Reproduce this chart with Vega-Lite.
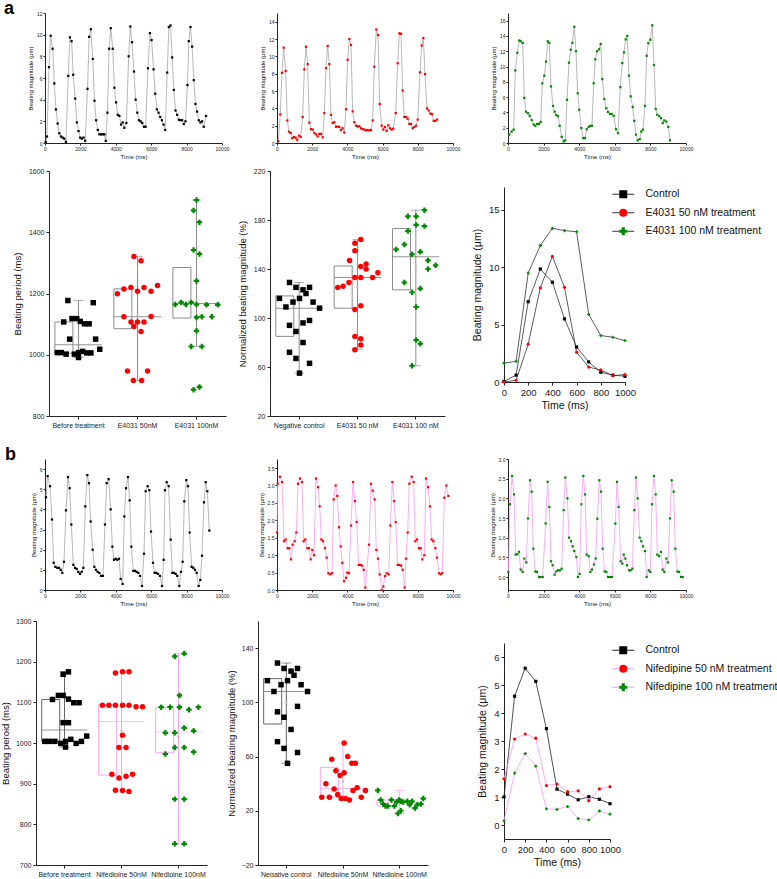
{
"$schema": "https://vega.github.io/schema/vega-lite/v6.json",
"padding": 0,
"background": "white",
"config": {
  "font": "Liberation Sans",
  "view": {"stroke": null},
  "axis": {"grid": false, "domainColor": "#222", "tickColor": "#222", "labelColor": "#222", "titleColor": "#111", "titleFontWeight": "normal", "labelFlush": false, "labelOverlap": false}
},
"datasets": {
  "tsa1": [{"t":38,"v":0.1},{"t":113,"v":0.6},{"t":225,"v":7.0},{"t":319,"v":9.9},{"t":432,"v":8.7},{"t":525,"v":5.5},{"t":619,"v":3.1},{"t":713,"v":1.8},{"t":807,"v":0.9},{"t":900,"v":0.6},{"t":994,"v":0.5},{"t":1088,"v":0.4},{"t":1182,"v":0.1},{"t":1313,"v":6.2},{"t":1407,"v":9.75},{"t":1501,"v":9.4},{"t":1595,"v":6.3},{"t":1707,"v":4.1},{"t":1801,"v":1.9},{"t":1895,"v":1.1},{"t":1989,"v":0.5},{"t":2082,"v":0.4},{"t":2176,"v":0.5},{"t":2270,"v":0.2},{"t":2401,"v":5.0},{"t":2495,"v":9.8},{"t":2589,"v":10.5},{"t":2701,"v":7.75},{"t":2795,"v":3.9},{"t":2889,"v":2.1},{"t":2983,"v":1.2},{"t":3077,"v":0.8},{"t":3170,"v":0.8},{"t":3264,"v":0.8},{"t":3358,"v":0.8},{"t":3433,"v":0.2},{"t":3527,"v":2.8},{"t":3621,"v":8.7},{"t":3714,"v":10.6},{"t":3827,"v":8.7},{"t":3921,"v":5.1},{"t":4015,"v":3.75},{"t":4108,"v":2.6},{"t":4202,"v":2.5},{"t":4296,"v":1.7},{"t":4390,"v":1.9},{"t":4484,"v":1.4},{"t":4596,"v":1.85},{"t":4728,"v":8.0},{"t":4821,"v":10.75},{"t":4915,"v":9.3},{"t":5028,"v":6.6},{"t":5121,"v":4.0},{"t":5215,"v":2.8},{"t":5309,"v":2.1},{"t":5403,"v":2.0},{"t":5497,"v":1.85},{"t":5590,"v":1.5},{"t":5684,"v":1.5},{"t":5816,"v":6.9},{"t":5928,"v":10.15},{"t":6022,"v":9.5},{"t":6135,"v":6.8},{"t":6228,"v":4.55},{"t":6322,"v":3.1},{"t":6416,"v":2.8},{"t":6510,"v":2.4},{"t":6604,"v":2.1},{"t":6697,"v":1.7},{"t":6791,"v":1.2},{"t":6904,"v":6.5},{"t":6997,"v":10.7},{"t":7091,"v":10.85},{"t":7185,"v":7.9},{"t":7279,"v":4.9},{"t":7373,"v":3.0},{"t":7466,"v":2.6},{"t":7560,"v":2.15},{"t":7654,"v":2.1},{"t":7748,"v":2.1},{"t":7842,"v":1.75},{"t":7936,"v":2.0},{"t":8048,"v":5.35},{"t":8123,"v":9.4},{"t":8217,"v":10.7},{"t":8311,"v":8.9},{"t":8405,"v":5.8},{"t":8499,"v":3.6},{"t":8592,"v":2.9},{"t":8686,"v":2.1},{"t":8780,"v":1.9},{"t":8874,"v":2.0},{"t":8968,"v":1.5},{"t":9099,"v":2.5}],
  "tsa2": [{"t":76,"v":0.2},{"t":189,"v":3.3},{"t":284,"v":8.1},{"t":379,"v":11.0},{"t":492,"v":8.3},{"t":587,"v":2.6},{"t":682,"v":1.3},{"t":777,"v":1.15},{"t":871,"v":0.55},{"t":966,"v":0.7},{"t":1061,"v":0.6},{"t":1155,"v":0.35},{"t":1250,"v":0.85},{"t":1345,"v":0.7},{"t":1458,"v":3.0},{"t":1553,"v":8.5},{"t":1648,"v":11.1},{"t":1742,"v":9.1},{"t":1837,"v":2.35},{"t":1932,"v":1.6},{"t":2027,"v":1.55},{"t":2121,"v":1.15},{"t":2216,"v":1.0},{"t":2311,"v":0.75},{"t":2405,"v":1.05},{"t":2500,"v":1.05},{"t":2595,"v":0.65},{"t":2689,"v":3.45},{"t":2784,"v":8.65},{"t":2879,"v":11.2},{"t":2973,"v":9.1},{"t":3068,"v":3.25},{"t":3163,"v":2.3},{"t":3258,"v":2.4},{"t":3352,"v":1.85},{"t":3447,"v":1.9},{"t":3542,"v":1.85},{"t":3636,"v":1.5},{"t":3731,"v":1.7},{"t":3826,"v":1.2},{"t":3920,"v":3.9},{"t":4015,"v":9.6},{"t":4110,"v":12.0},{"t":4205,"v":11.3},{"t":4299,"v":3.65},{"t":4394,"v":2.4},{"t":4489,"v":2.0},{"t":4583,"v":1.9},{"t":4678,"v":1.95},{"t":4773,"v":1.7},{"t":4867,"v":1.6},{"t":4962,"v":1.55},{"t":5057,"v":1.45},{"t":5151,"v":1.5},{"t":5246,"v":1.45},{"t":5341,"v":1.5},{"t":5436,"v":2.6},{"t":5530,"v":8.8},{"t":5644,"v":13.1},{"t":5739,"v":12.45},{"t":5834,"v":4.5},{"t":5947,"v":2.0},{"t":6042,"v":1.55},{"t":6137,"v":1.85},{"t":6231,"v":1.4},{"t":6326,"v":2.05},{"t":6421,"v":1.7},{"t":6515,"v":1.55},{"t":6610,"v":1.65},{"t":6743,"v":3.45},{"t":6856,"v":9.2},{"t":6951,"v":12.65},{"t":7046,"v":12.6},{"t":7140,"v":6.05},{"t":7235,"v":3.0},{"t":7330,"v":3.0},{"t":7424,"v":2.8},{"t":7519,"v":2.2},{"t":7614,"v":2.2},{"t":7709,"v":1.7},{"t":7803,"v":1.85},{"t":7898,"v":2.0},{"t":7993,"v":2.7},{"t":8125,"v":8.15},{"t":8220,"v":11.25},{"t":8315,"v":12.1},{"t":8409,"v":7.95},{"t":8523,"v":4.0},{"t":8618,"v":3.75},{"t":8712,"v":3.4},{"t":8807,"v":3.35},{"t":8902,"v":2.55},{"t":8997,"v":2.55},{"t":9091,"v":2.7}],
  "tsa3": [{"t":73,"v":1.1},{"t":208,"v":1.5},{"t":320,"v":1.75},{"t":410,"v":9.5},{"t":522,"v":11.8},{"t":635,"v":13.4},{"t":713,"v":13.3},{"t":826,"v":13.1},{"t":916,"v":5.9},{"t":1011,"v":4.1},{"t":1124,"v":3.9},{"t":1219,"v":3.55},{"t":1330,"v":3.0},{"t":1443,"v":2.4},{"t":1536,"v":2.25},{"t":1629,"v":2.5},{"t":1742,"v":2.5},{"t":1837,"v":2.75},{"t":1927,"v":7.8},{"t":2040,"v":8.8},{"t":2135,"v":10.65},{"t":2230,"v":13.3},{"t":2320,"v":13.1},{"t":2416,"v":7.4},{"t":2528,"v":4.85},{"t":2624,"v":4.1},{"t":2714,"v":3.65},{"t":2809,"v":3.5},{"t":2904,"v":2.25},{"t":3017,"v":0.8},{"t":3129,"v":0.2},{"t":3219,"v":0.35},{"t":3315,"v":5.65},{"t":3427,"v":10.5},{"t":3523,"v":12.2},{"t":3613,"v":13.1},{"t":3725,"v":15.2},{"t":3820,"v":12.0},{"t":3916,"v":6.5},{"t":4006,"v":4.35},{"t":4118,"v":1.95},{"t":4231,"v":0.65},{"t":4326,"v":0.65},{"t":4421,"v":1.8},{"t":4533,"v":2.1},{"t":4624,"v":2.25},{"t":4719,"v":2.25},{"t":4814,"v":7.8},{"t":4905,"v":10.95},{"t":5000,"v":12.0},{"t":5112,"v":12.25},{"t":5208,"v":12.95},{"t":5298,"v":8.35},{"t":5410,"v":5.75},{"t":5523,"v":4.55},{"t":5618,"v":4.05},{"t":5730,"v":3.8},{"t":5826,"v":3.8},{"t":5938,"v":3.55},{"t":6067,"v":1.8},{"t":6180,"v":1.3},{"t":6309,"v":7.3},{"t":6421,"v":10.45},{"t":6517,"v":11.85},{"t":6612,"v":13.55},{"t":6702,"v":14.0},{"t":6798,"v":8.8},{"t":6893,"v":6.1},{"t":7006,"v":4.7},{"t":7096,"v":2.9},{"t":7191,"v":1.1},{"t":7287,"v":0.35},{"t":7399,"v":0.5},{"t":7489,"v":1.5},{"t":7584,"v":1.75},{"t":7697,"v":4.85},{"t":7792,"v":11.4},{"t":7882,"v":13.05},{"t":7995,"v":13.5},{"t":8107,"v":15.4},{"t":8202,"v":10.2},{"t":8298,"v":4.45},{"t":8387,"v":3.7},{"t":8500,"v":3.5},{"t":8596,"v":3.25},{"t":8691,"v":2.6},{"t":8781,"v":2.95},{"t":8894,"v":2.8},{"t":9006,"v":2.1},{"t":9101,"v":0.35}],
  "tsb1": [{"t":56,"v":4.6},{"t":151,"v":5.65},{"t":282,"v":5.15},{"t":395,"v":3.5},{"t":490,"v":1.35},{"t":584,"v":1.15},{"t":697,"v":1.1},{"t":791,"v":1.1},{"t":885,"v":1.0},{"t":979,"v":0.85},{"t":1073,"v":1.4},{"t":1186,"v":3.95},{"t":1299,"v":5.6},{"t":1393,"v":5.05},{"t":1488,"v":3.25},{"t":1601,"v":1.25},{"t":1695,"v":1.1},{"t":1789,"v":1.05},{"t":1883,"v":0.9},{"t":1977,"v":0.8},{"t":2071,"v":0.9},{"t":2165,"v":1.1},{"t":2278,"v":4.15},{"t":2391,"v":5.7},{"t":2486,"v":5.3},{"t":2580,"v":3.4},{"t":2693,"v":2.0},{"t":2787,"v":1.15},{"t":2881,"v":1.0},{"t":2975,"v":0.9},{"t":3069,"v":0.85},{"t":3163,"v":0.7},{"t":3276,"v":0.7},{"t":3389,"v":3.25},{"t":3484,"v":5.3},{"t":3597,"v":5.5},{"t":3710,"v":4.0},{"t":3804,"v":2.15},{"t":3898,"v":1.5},{"t":3992,"v":1.55},{"t":4086,"v":1.5},{"t":4180,"v":1.55},{"t":4274,"v":0.55},{"t":4387,"v":0.3},{"t":4482,"v":3.65},{"t":4576,"v":5.05},{"t":4689,"v":5.6},{"t":4783,"v":4.45},{"t":4877,"v":2.15},{"t":4990,"v":0.95},{"t":5084,"v":0.95},{"t":5178,"v":0.9},{"t":5272,"v":0.85},{"t":5367,"v":0.7},{"t":5480,"v":0.2},{"t":5593,"v":1.8},{"t":5687,"v":4.9},{"t":5800,"v":5.15},{"t":5894,"v":4.95},{"t":5988,"v":2.9},{"t":6101,"v":1.35},{"t":6195,"v":0.85},{"t":6289,"v":0.85},{"t":6383,"v":0.8},{"t":6496,"v":0.7},{"t":6609,"v":0.2},{"t":6703,"v":1.5},{"t":6779,"v":4.95},{"t":6873,"v":5.35},{"t":6986,"v":5.15},{"t":7099,"v":2.5},{"t":7193,"v":0.85},{"t":7287,"v":0.85},{"t":7381,"v":0.8},{"t":7476,"v":0.7},{"t":7589,"v":0.2},{"t":7683,"v":0.9},{"t":7777,"v":1.4},{"t":7871,"v":4.4},{"t":7984,"v":5.45},{"t":8078,"v":5.15},{"t":8172,"v":2.85},{"t":8285,"v":1.15},{"t":8379,"v":1.1},{"t":8474,"v":1.0},{"t":8568,"v":0.85},{"t":8681,"v":0.2},{"t":8775,"v":0.5},{"t":8869,"v":1.7},{"t":8982,"v":4.35},{"t":9076,"v":5.35},{"t":9170,"v":4.9},{"t":9283,"v":2.95}],
  "tsb2": [{"t":0,"v":1.65},{"t":38,"v":3.05},{"t":170,"v":3.25},{"t":284,"v":3.1},{"t":398,"v":1.4},{"t":492,"v":1.45},{"t":606,"v":1.2},{"t":701,"v":1.2},{"t":795,"v":0.88},{"t":890,"v":1.3},{"t":1004,"v":1.4},{"t":1099,"v":1.65},{"t":1193,"v":3.05},{"t":1307,"v":3.2},{"t":1421,"v":3.1},{"t":1515,"v":1.4},{"t":1610,"v":1.45},{"t":1724,"v":1.2},{"t":1818,"v":1.2},{"t":1913,"v":0.88},{"t":2008,"v":1.15},{"t":2102,"v":1.0},{"t":2216,"v":3.2},{"t":2330,"v":2.95},{"t":2424,"v":2.4},{"t":2519,"v":1.45},{"t":2614,"v":1.4},{"t":2727,"v":1.2},{"t":2822,"v":0.93},{"t":2917,"v":0.48},{"t":3011,"v":0.45},{"t":3125,"v":0.48},{"t":3220,"v":2.6},{"t":3333,"v":3.0},{"t":3428,"v":2.7},{"t":3523,"v":1.8},{"t":3618,"v":1.25},{"t":3712,"v":0.78},{"t":3807,"v":0.25},{"t":3921,"v":0.35},{"t":3996,"v":0.5},{"t":4091,"v":0.48},{"t":4205,"v":1.85},{"t":4318,"v":3.1},{"t":4432,"v":2.55},{"t":4527,"v":1.95},{"t":4640,"v":0.72},{"t":4735,"v":0.72},{"t":4830,"v":0.7},{"t":4924,"v":0.58},{"t":5019,"v":0.07},{"t":5227,"v":1.3},{"t":5341,"v":3.05},{"t":5436,"v":2.85},{"t":5549,"v":2.6},{"t":5644,"v":1.15},{"t":5739,"v":0.9},{"t":5834,"v":0.45},{"t":5947,"v":0.0},{"t":6042,"v":0.1},{"t":6137,"v":0.4},{"t":6231,"v":0.48},{"t":6345,"v":0.45},{"t":6440,"v":1.85},{"t":6553,"v":3.1},{"t":6648,"v":2.55},{"t":6743,"v":1.95},{"t":6856,"v":0.72},{"t":6951,"v":0.72},{"t":7046,"v":0.7},{"t":7140,"v":0.58},{"t":7254,"v":0.07},{"t":7330,"v":0.9},{"t":7424,"v":1.65},{"t":7519,"v":3.05},{"t":7652,"v":3.25},{"t":7765,"v":3.1},{"t":7860,"v":1.4},{"t":7955,"v":1.45},{"t":8068,"v":1.2},{"t":8163,"v":1.2},{"t":8258,"v":0.88},{"t":8371,"v":1.0},{"t":8466,"v":3.2},{"t":8580,"v":2.95},{"t":8693,"v":2.4},{"t":8788,"v":1.45},{"t":8883,"v":1.4},{"t":8997,"v":1.2},{"t":9091,"v":0.93},{"t":9205,"v":0.48},{"t":9300,"v":0.45},{"t":9394,"v":0.48},{"t":9508,"v":2.65},{"t":9622,"v":3.0},{"t":9735,"v":2.7}],
  "tsb3": [{"t":19,"v":0.13},{"t":112,"v":1.85},{"t":225,"v":2.57},{"t":337,"v":2.1},{"t":431,"v":0.57},{"t":524,"v":0.58},{"t":618,"v":0.64},{"t":712,"v":0.19},{"t":824,"v":0.13},{"t":918,"v":0.47},{"t":1030,"v":0.37},{"t":1124,"v":1.49},{"t":1236,"v":2.46},{"t":1330,"v":2.17},{"t":1423,"v":0.72},{"t":1536,"v":0.14},{"t":1629,"v":0.13},{"t":1742,"v":0.0},{"t":1835,"v":0.0},{"t":1948,"v":0.0},{"t":2116,"v":1.36},{"t":2228,"v":2.42},{"t":2322,"v":1.78},{"t":2416,"v":0.4},{"t":2509,"v":0.3},{"t":2621,"v":0.06},{"t":2715,"v":0.14},{"t":2809,"v":0.17},{"t":2921,"v":0.17},{"t":3015,"v":0.21},{"t":3127,"v":1.7},{"t":3221,"v":2.53},{"t":3334,"v":2.0},{"t":3427,"v":1.0},{"t":3539,"v":0.91},{"t":3633,"v":0.78},{"t":3727,"v":0.66},{"t":3839,"v":0.51},{"t":3933,"v":0.0},{"t":4026,"v":0.08},{"t":4120,"v":1.85},{"t":4232,"v":2.57},{"t":4326,"v":2.1},{"t":4420,"v":0.57},{"t":4532,"v":0.53},{"t":4626,"v":0.13},{"t":4719,"v":0.19},{"t":4831,"v":0.32},{"t":4925,"v":0.47},{"t":5019,"v":1.48},{"t":5131,"v":2.46},{"t":5225,"v":2.17},{"t":5318,"v":0.72},{"t":5431,"v":0.14},{"t":5524,"v":0.13},{"t":5618,"v":0.0},{"t":5730,"v":0.0},{"t":5843,"v":0.0},{"t":6030,"v":1.36},{"t":6124,"v":2.42},{"t":6217,"v":1.78},{"t":6329,"v":0.4},{"t":6423,"v":0.34},{"t":6498,"v":0.57},{"t":6592,"v":0.47},{"t":6686,"v":0.3},{"t":6798,"v":0.17},{"t":6892,"v":0.17},{"t":6986,"v":0.21},{"t":7098,"v":1.7},{"t":7191,"v":2.53},{"t":7285,"v":2.0},{"t":7398,"v":1.0},{"t":7491,"v":0.91},{"t":7585,"v":0.78},{"t":7697,"v":0.66},{"t":7791,"v":0.0},{"t":7903,"v":0.17},{"t":7997,"v":0.13},{"t":8090,"v":1.85},{"t":8203,"v":2.57},{"t":8296,"v":2.1},{"t":8390,"v":0.57},{"t":8484,"v":0.53},{"t":8596,"v":0.64},{"t":8690,"v":0.19},{"t":8783,"v":0.13},{"t":8896,"v":0.47},{"t":8989,"v":0.37},{"t":9101,"v":1.49},{"t":9195,"v":2.46},{"t":9307,"v":2.17},{"t":9401,"v":0.72},{"t":9514,"v":0.14},{"t":9607,"v":0.13},{"t":9719,"v":0.0},{"t":9813,"v":0.0}],
  "boxa1": [{"g":"Before treatment","lo":991,"q1":1005,"md":1033,"q3":1107,"hi":1177,"mn":1059},{"g":"E4031 50nM","lo":916,"q1":1085,"md":1124,"q3":1215,"hi":1321,"mn":1128},{"g":"E4031 100nM","lo":1027,"q1":1120,"md":1167,"q3":1285,"hi":1505,"mn":1180}],
  "ptsa1": [{"g":"Before treatment","v":1177,"j":-0.18},{"g":"Before treatment","v":1107,"j":-0.25},{"g":"Before treatment","v":1118,"j":-0.11},{"g":"Before treatment","v":1118,"j":-0.03},{"g":"Before treatment","v":1109,"j":0.03},{"g":"Before treatment","v":1101,"j":0.1},{"g":"Before treatment","v":1101,"j":0.18},{"g":"Before treatment","v":1170,"j":0.25},{"g":"Before treatment","v":1051,"j":-0.15},{"g":"Before treatment","v":1051,"j":0.29},{"g":"Before treatment","v":1007,"j":-0.36},{"g":"Before treatment","v":1007,"j":-0.29},{"g":"Before treatment","v":1002,"j":-0.21},{"g":"Before treatment","v":1002,"j":-0.07},{"g":"Before treatment","v":1007,"j":0},{"g":"Before treatment","v":1011,"j":0.07},{"g":"Before treatment","v":1006,"j":0.14},{"g":"Before treatment","v":1006,"j":0.21},{"g":"Before treatment","v":1018,"j":0.36},{"g":"Before treatment","v":991,"j":0},
    {"g":"E4031 50nM","v":1321,"j":-0.06},{"g":"E4031 50nM","v":1307,"j":0.06},{"g":"E4031 50nM","v":1199,"j":-0.34},{"g":"E4031 50nM","v":1215,"j":-0.23},{"g":"E4031 50nM","v":1220,"j":-0.11},{"g":"E4031 50nM","v":1207,"j":0},{"g":"E4031 50nM","v":1220,"j":0.11},{"g":"E4031 50nM","v":1207,"j":0.23},{"g":"E4031 50nM","v":1226,"j":0.34},{"g":"E4031 50nM","v":1124,"j":-0.23},{"g":"E4031 50nM","v":1125,"j":0.23},{"g":"E4031 50nM","v":1107,"j":-0.11},{"g":"E4031 50nM","v":1107,"j":0},{"g":"E4031 50nM","v":1107,"j":0.11},{"g":"E4031 50nM","v":1092,"j":-0.06},{"g":"E4031 50nM","v":1076,"j":0.06},{"g":"E4031 50nM","v":947,"j":-0.17},{"g":"E4031 50nM","v":947,"j":0.17},{"g":"E4031 50nM","v":916,"j":-0.07},{"g":"E4031 50nM","v":916,"j":0.07},
    {"g":"E4031 100nM","v":1505,"j":0},{"g":"E4031 100nM","v":1471,"j":-0.05},{"g":"E4031 100nM","v":1433,"j":0.05},{"g":"E4031 100nM","v":1342,"j":-0.05},{"g":"E4031 100nM","v":1329,"j":0.05},{"g":"E4031 100nM","v":1241,"j":0},{"g":"E4031 100nM","v":1164,"j":-0.36},{"g":"E4031 100nM","v":1171,"j":-0.26},{"g":"E4031 100nM","v":1164,"j":-0.18},{"g":"E4031 100nM","v":1171,"j":-0.09},{"g":"E4031 100nM","v":1164,"j":0},{"g":"E4031 100nM","v":1163,"j":0.17},{"g":"E4031 100nM","v":1163,"j":0.36},{"g":"E4031 100nM","v":1122,"j":0},{"g":"E4031 100nM","v":1124,"j":0.09},{"g":"E4031 100nM","v":1124,"j":0.26},{"g":"E4031 100nM","v":1078,"j":0},{"g":"E4031 100nM","v":1027,"j":-0.09},{"g":"E4031 100nM","v":1027,"j":0.09},{"g":"E4031 100nM","v":886,"j":-0.05},{"g":"E4031 100nM","v":895,"j":0.05}],
  "boxa2": [{"g":"Negative control","lo":55,"q1":85,"md":108,"q3":118,"hi":129,"mn":101},{"g":"E4031 50 nM","lo":74.5,"q1":108,"md":133,"q3":142.5,"hi":164,"mn":125},{"g":"E4031 100 nM","lo":61,"q1":123,"md":150,"q3":173,"hi":188,"mn":142}],
  "ptsa2": [{"g":"Negative control","v":129,"j":-0.17},{"g":"Negative control","v":125,"j":-0.06},{"g":"Negative control","v":123,"j":0.06},{"g":"Negative control","v":120,"j":0.11},{"g":"Negative control","v":125,"j":0.17},{"g":"Negative control","v":116,"j":-0.34},{"g":"Negative control","v":116,"j":0},{"g":"Negative control","v":113,"j":-0.11},{"g":"Negative control","v":113,"j":0.23},{"g":"Negative control","v":109,"j":-0.23},{"g":"Negative control","v":108,"j":0.34},{"g":"Negative control","v":94,"j":-0.17},{"g":"Negative control","v":96,"j":0.06},{"g":"Negative control","v":98,"j":0.17},{"g":"Negative control","v":89,"j":-0.06},{"g":"Negative control","v":80,"j":0.06},{"g":"Negative control","v":72,"j":-0.17},{"g":"Negative control","v":63,"j":0.17},{"g":"Negative control","v":67,"j":-0.06},{"g":"Negative control","v":55,"j":0},
    {"g":"E4031 50 nM","v":164,"j":0.05},{"g":"E4031 50 nM","v":161,"j":-0.05},{"g":"E4031 50 nM","v":155,"j":-0.05},{"g":"E4031 50 nM","v":147,"j":-0.14},{"g":"E4031 50 nM","v":144,"j":0.14},{"g":"E4031 50 nM","v":142,"j":0.05},{"g":"E4031 50 nM","v":140,"j":0.14},{"g":"E4031 50 nM","v":137,"j":0.34},{"g":"E4031 50 nM","v":133,"j":0.25},{"g":"E4031 50 nM","v":133,"j":-0.05},{"g":"E4031 50 nM","v":133,"j":0.05},{"g":"E4031 50 nM","v":125,"j":-0.34},{"g":"E4031 50 nM","v":126,"j":-0.25},{"g":"E4031 50 nM","v":129,"j":-0.15},{"g":"E4031 50 nM","v":110,"j":0.05},{"g":"E4031 50 nM","v":107,"j":-0.05},{"g":"E4031 50 nM","v":85,"j":-0.05},{"g":"E4031 50 nM","v":83,"j":0.05},{"g":"E4031 50 nM","v":78,"j":0.05},{"g":"E4031 50 nM","v":74,"j":-0.05},
    {"g":"E4031 100 nM","v":183,"j":-0.14},{"g":"E4031 100 nM","v":183,"j":0},{"g":"E4031 100 nM","v":188,"j":0.14},{"g":"E4031 100 nM","v":176,"j":0},{"g":"E4031 100 nM","v":175,"j":0.14},{"g":"E4031 100 nM","v":171,"j":-0.14},{"g":"E4031 100 nM","v":156,"j":-0.34},{"g":"E4031 100 nM","v":160,"j":-0.2},{"g":"E4031 100 nM","v":152,"j":-0.07},{"g":"E4031 100 nM","v":154,"j":0.07},{"g":"E4031 100 nM","v":147,"j":0.2},{"g":"E4031 100 nM","v":143,"j":0.33},{"g":"E4031 100 nM","v":140,"j":0.2},{"g":"E4031 100 nM","v":129,"j":-0.2},{"g":"E4031 100 nM","v":124,"j":0.07},{"g":"E4031 100 nM","v":121,"j":-0.07},{"g":"E4031 100 nM","v":109,"j":0},{"g":"E4031 100 nM","v":82,"j":0},{"g":"E4031 100 nM","v":79,"j":0.07},{"g":"E4031 100 nM","v":61,"j":-0.07}],
  "boxb1": [{"g":"Before treatment","lo":990,"q1":1004,"md":1032,"q3":1107,"hi":1175,"mn":1056},{"g":"Nifedipine 50nM","lo":881,"q1":921,"md":1053,"q3":1094,"hi":1175,"mn":1030},{"g":"Nifedipine 100nM","lo":752,"q1":976,"md":1027,"q3":1087,"hi":1220,"mn":1015}],
  "ptsb1": [{"g":"Before treatment","v":1175,"j":0.05},{"g":"Before treatment","v":1169,"j":-0.04},{"g":"Before treatment","v":1107,"j":-0.22},{"g":"Before treatment","v":1117,"j":-0.12},{"g":"Before treatment","v":1117,"j":-0.04},{"g":"Before treatment","v":1108,"j":0.05},{"g":"Before treatment","v":1099,"j":0.14},{"g":"Before treatment","v":1099,"j":0.23},{"g":"Before treatment","v":1050,"j":-0.04},{"g":"Before treatment","v":1050,"j":0.05},{"g":"Before treatment","v":1004,"j":-0.35},{"g":"Before treatment","v":1004,"j":-0.27},{"g":"Before treatment","v":1004,"j":-0.18},{"g":"Before treatment","v":999,"j":-0.08},{"g":"Before treatment","v":1004,"j":0},{"g":"Before treatment","v":1009,"j":0.09},{"g":"Before treatment","v":999,"j":0.18},{"g":"Before treatment","v":1004,"j":0.27},{"g":"Before treatment","v":1017,"j":0.36},{"g":"Before treatment","v":990,"j":0},
    {"g":"Nifedipine 50nM","v":1172,"j":-0.12},{"g":"Nifedipine 50nM","v":1175,"j":0},{"g":"Nifedipine 50nM","v":1175,"j":0.11},{"g":"Nifedipine 50nM","v":1093,"j":-0.34},{"g":"Nifedipine 50nM","v":1093,"j":-0.23},{"g":"Nifedipine 50nM","v":1093,"j":-0.12},{"g":"Nifedipine 50nM","v":1093,"j":0},{"g":"Nifedipine 50nM","v":1093,"j":0.11},{"g":"Nifedipine 50nM","v":1089,"j":0.23},{"g":"Nifedipine 50nM","v":1089,"j":0.34},{"g":"Nifedipine 50nM","v":1019,"j":0},{"g":"Nifedipine 50nM","v":989,"j":-0.06},{"g":"Nifedipine 50nM","v":989,"j":0.06},{"g":"Nifedipine 50nM","v":923,"j":-0.18},{"g":"Nifedipine 50nM","v":923,"j":0.17},{"g":"Nifedipine 50nM","v":918,"j":0.06},{"g":"Nifedipine 50nM","v":914,"j":-0.06},{"g":"Nifedipine 50nM","v":884,"j":-0.12},{"g":"Nifedipine 50nM","v":883,"j":0},{"g":"Nifedipine 50nM","v":881,"j":0.11},
    {"g":"Nifedipine 100nM","v":1213,"j":-0.08},{"g":"Nifedipine 100nM","v":1220,"j":0.08},{"g":"Nifedipine 100nM","v":1117,"j":0},{"g":"Nifedipine 100nM","v":1088,"j":-0.31},{"g":"Nifedipine 100nM","v":1088,"j":-0.16},{"g":"Nifedipine 100nM","v":1088,"j":0},{"g":"Nifedipine 100nM","v":1082,"j":0.16},{"g":"Nifedipine 100nM","v":1088,"j":0.32},{"g":"Nifedipine 100nM","v":1025,"j":-0.24},{"g":"Nifedipine 100nM","v":1025,"j":-0.08},{"g":"Nifedipine 100nM","v":1037,"j":0.08},{"g":"Nifedipine 100nM","v":1030,"j":0.24},{"g":"Nifedipine 100nM","v":989,"j":-0.08},{"g":"Nifedipine 100nM","v":989,"j":0.08},{"g":"Nifedipine 100nM","v":973,"j":-0.24},{"g":"Nifedipine 100nM","v":978,"j":0.24},{"g":"Nifedipine 100nM","v":862,"j":-0.08},{"g":"Nifedipine 100nM","v":862,"j":0.08},{"g":"Nifedipine 100nM","v":752,"j":-0.08},{"g":"Nifedipine 100nM","v":752,"j":0.08}],
  "boxb2": [{"g":"Negative control","lo":55,"q1":84,"md":108,"q3":117.5,"hi":129,"mn":100},{"g":"Nifedipine 50nM","lo":28,"q1":30,"md":36.5,"q3":52,"hi":70,"mn":42},{"g":"Nifedipine 100nM","lo":18,"q1":23.5,"md":26,"q3":28,"hi":35,"mn":26}],
  "ptsb2": [{"g":"Negative control","v":129,"j":-0.17},{"g":"Negative control","v":125,"j":-0.06},{"g":"Negative control","v":125,"j":0.17},{"g":"Negative control","v":123,"j":0.06},{"g":"Negative control","v":120,"j":0.11},{"g":"Negative control","v":116,"j":-0.34},{"g":"Negative control","v":116,"j":0},{"g":"Negative control","v":113,"j":-0.11},{"g":"Negative control","v":113,"j":0.23},{"g":"Negative control","v":108,"j":-0.23},{"g":"Negative control","v":108,"j":0.34},{"g":"Negative control","v":93,"j":-0.17},{"g":"Negative control","v":89,"j":-0.06},{"g":"Negative control","v":97,"j":0.17},{"g":"Negative control","v":80,"j":0.06},{"g":"Negative control","v":71,"j":-0.17},{"g":"Negative control","v":66,"j":-0.06},{"g":"Negative control","v":63,"j":0.17},{"g":"Negative control","v":55,"j":0},
    {"g":"Nifedipine 50nM","v":70,"j":0},{"g":"Nifedipine 50nM","v":60,"j":0.06},{"g":"Nifedipine 50nM","v":58,"j":-0.21},{"g":"Nifedipine 50nM","v":55,"j":0.13},{"g":"Nifedipine 50nM","v":55,"j":0.19},{"g":"Nifedipine 50nM","v":49.5,"j":-0.14},{"g":"Nifedipine 50nM","v":48,"j":0},{"g":"Nifedipine 50nM","v":46,"j":-0.07},{"g":"Nifedipine 50nM","v":40,"j":-0.31},{"g":"Nifedipine 50nM","v":36,"j":-0.17},{"g":"Nifedipine 50nM","v":37,"j":0.22},{"g":"Nifedipine 50nM","v":35,"j":0.15},{"g":"Nifedipine 50nM","v":35,"j":0.36},{"g":"Nifedipine 50nM","v":30,"j":-0.38},{"g":"Nifedipine 50nM","v":30,"j":-0.25},{"g":"Nifedipine 50nM","v":32,"j":-0.11},{"g":"Nifedipine 50nM","v":29,"j":-0.05},{"g":"Nifedipine 50nM","v":29,"j":0.02},{"g":"Nifedipine 50nM","v":28,"j":0.09},{"g":"Nifedipine 50nM","v":30,"j":0.29},
    {"g":"Nifedipine 100nM","v":35,"j":-0.39},{"g":"Nifedipine 100nM","v":28,"j":-0.34},{"g":"Nifedipine 100nM","v":25,"j":-0.3},{"g":"Nifedipine 100nM","v":23.5,"j":-0.26},{"g":"Nifedipine 100nM","v":23.5,"j":-0.22},{"g":"Nifedipine 100nM","v":28,"j":-0.16},{"g":"Nifedipine 100nM","v":23.5,"j":-0.11},{"g":"Nifedipine 100nM","v":26.5,"j":-0.07},{"g":"Nifedipine 100nM","v":28,"j":-0.03},{"g":"Nifedipine 100nM","v":27,"j":0},{"g":"Nifedipine 100nM","v":26.5,"j":0.04},{"g":"Nifedipine 100nM","v":27,"j":0.11},{"g":"Nifedipine 100nM","v":24.5,"j":0.15},{"g":"Nifedipine 100nM","v":27,"j":0.19},{"g":"Nifedipine 100nM","v":22,"j":0.24},{"g":"Nifedipine 100nM","v":24.5,"j":0.28},{"g":"Nifedipine 100nM","v":25,"j":0.34},{"g":"Nifedipine 100nM","v":29,"j":0.38},{"g":"Nifedipine 100nM","v":18,"j":-0.05},{"g":"Nifedipine 100nM","v":20,"j":0}],
  "linea": [{"s":"Control","t":0,"v":0.05},{"s":"Control","t":100,"v":0.6},{"s":"Control","t":200,"v":7.0},{"s":"Control","t":300,"v":9.85},{"s":"Control","t":400,"v":8.7},{"s":"Control","t":500,"v":5.5},{"s":"Control","t":600,"v":3.05},{"s":"Control","t":700,"v":1.75},{"s":"Control","t":800,"v":0.85},{"s":"Control","t":900,"v":0.6},{"s":"Control","t":1000,"v":0.5},
    {"s":"E4031 50 nM treatment","t":0,"v":0},{"s":"E4031 50 nM treatment","t":100,"v":0.15},{"s":"E4031 50 nM treatment","t":200,"v":3.3},{"s":"E4031 50 nM treatment","t":300,"v":8.2},{"s":"E4031 50 nM treatment","t":400,"v":10.95},{"s":"E4031 50 nM treatment","t":500,"v":8.25},{"s":"E4031 50 nM treatment","t":600,"v":2.6},{"s":"E4031 50 nM treatment","t":700,"v":1.3},{"s":"E4031 50 nM treatment","t":800,"v":1.05},{"s":"E4031 50 nM treatment","t":900,"v":0.55},{"s":"E4031 50 nM treatment","t":1000,"v":0.65},
    {"s":"E4031 100 nM treatment","t":0,"v":1.65},{"s":"E4031 100 nM treatment","t":100,"v":1.8},{"s":"E4031 100 nM treatment","t":200,"v":9.5},{"s":"E4031 100 nM treatment","t":300,"v":11.9},{"s":"E4031 100 nM treatment","t":400,"v":13.4},{"s":"E4031 100 nM treatment","t":500,"v":13.2},{"s":"E4031 100 nM treatment","t":600,"v":13.1},{"s":"E4031 100 nM treatment","t":700,"v":5.9},{"s":"E4031 100 nM treatment","t":800,"v":4.05},{"s":"E4031 100 nM treatment","t":900,"v":3.9},{"s":"E4031 100 nM treatment","t":1000,"v":3.6}],
  "lineb": [{"s":"Control","t":0,"v":1.0},{"s":"Control","t":100,"v":4.6},{"s":"Control","t":200,"v":5.6},{"s":"Control","t":300,"v":5.13},{"s":"Control","t":400,"v":3.44},{"s":"Control","t":500,"v":1.28},{"s":"Control","t":600,"v":1.1},{"s":"Control","t":700,"v":0.9},{"s":"Control","t":800,"v":1.01},{"s":"Control","t":900,"v":0.92},{"s":"Control","t":1000,"v":0.76},
    {"s":"Nifedipine 50 nM treatment","t":0,"v":1.65},{"s":"Nifedipine 50 nM treatment","t":100,"v":3.07},{"s":"Nifedipine 50 nM treatment","t":200,"v":3.25},{"s":"Nifedipine 50 nM treatment","t":300,"v":3.1},{"s":"Nifedipine 50 nM treatment","t":400,"v":1.41},{"s":"Nifedipine 50 nM treatment","t":500,"v":1.46},{"s":"Nifedipine 50 nM treatment","t":600,"v":1.19},{"s":"Nifedipine 50 nM treatment","t":700,"v":1.22},{"s":"Nifedipine 50 nM treatment","t":800,"v":0.87},{"s":"Nifedipine 50 nM treatment","t":900,"v":1.29},{"s":"Nifedipine 50 nM treatment","t":1000,"v":1.37},
    {"s":"Nifedipine 100 nM treatment","t":0,"v":0.15},{"s":"Nifedipine 100 nM treatment","t":100,"v":1.85},{"s":"Nifedipine 100 nM treatment","t":200,"v":2.55},{"s":"Nifedipine 100 nM treatment","t":300,"v":2.1},{"s":"Nifedipine 100 nM treatment","t":400,"v":0.58},{"s":"Nifedipine 100 nM treatment","t":500,"v":0.56},{"s":"Nifedipine 100 nM treatment","t":600,"v":0.66},{"s":"Nifedipine 100 nM treatment","t":700,"v":0.23},{"s":"Nifedipine 100 nM treatment","t":800,"v":0.18},{"s":"Nifedipine 100 nM treatment","t":900,"v":0.5},{"s":"Nifedipine 100 nM treatment","t":1000,"v":0.39}]
},
"resolve": {"scale": {"color": "independent", "shape": "independent", "stroke": "independent", "fill": "independent"}, "legend": {"color": "independent", "shape": "independent", "stroke": "independent", "fill": "independent"}},
"vconcat": [
  {"hconcat": [
    {"width": 45, "height": 154, "data": {"values": [{"k": 0}]}, "mark": {"type": "point", "opacity": 0}},
    {"width": 177, "height": 130,
     "title": {"text": "a", "anchor": "start", "frame": "group", "fontSize": 18, "fontWeight": "bold", "color": "#000", "baseline": "alphabetic", "offset": -21, "dx": -41},
     "data": {"name": "tsa1"},
     "encoding": {
       "x": {"field": "t", "type": "quantitative", "scale": {"domain": [0, 10000], "nice": false}, "axis": {"values": [0,2000,4000,6000,8000,10000], "format": "d", "title": "Time (ms)", "labelFontSize": 5, "titleFontSize": 6, "tickSize": 2, "labelPadding": 1, "titlePadding": 2}},
       "y": {"field": "v", "type": "quantitative", "scale": {"domain": [0, 12], "nice": false}, "axis": {"values": [0,2,4,6,8,10,12], "title": "Beating magnitude (μm)", "labelFontSize": 5, "titleFontSize": 6, "tickSize": 2, "labelPadding": 1, "titlePadding": 3}}
     },
     "layer": [
       {"mark": {"type": "line", "color": "#a6a6a6", "strokeWidth": 0.8}},
       {"mark": {"type": "square", "color": "#000", "size": 5, "opacity": 1}}
     ]},
    {"width": 55, "height": 1, "data": {"values": [{"k": 0}]}, "mark": {"type": "point", "opacity": 0}},
    {"width": 176, "height": 130,
     "data": {"name": "tsa2"},
     "encoding": {
       "x": {"field": "t", "type": "quantitative", "scale": {"domain": [0, 10000], "nice": false}, "axis": {"values": [0,2000,4000,6000,8000,10000], "format": "d", "title": "Time (ms)", "labelFontSize": 5, "titleFontSize": 6, "tickSize": 2, "labelPadding": 1, "titlePadding": 2}},
       "y": {"field": "v", "type": "quantitative", "scale": {"domain": [0, 15], "nice": false}, "axis": {"values": [0,2,4,6,8,10,12,14], "title": "Beating magnitude (μm)", "labelFontSize": 5, "titleFontSize": 6, "tickSize": 2, "labelPadding": 1, "titlePadding": 3}}
     },
     "layer": [
       {"mark": {"type": "line", "color": "#a6a6a6", "strokeWidth": 0.8}},
       {"mark": {"type": "square", "color": "#ff0000", "size": 5, "opacity": 1}}
     ]},
    {"width": 55, "height": 1, "data": {"values": [{"k": 0}]}, "mark": {"type": "point", "opacity": 0}},
    {"width": 178, "height": 130,
     "data": {"name": "tsa3"},
     "encoding": {
       "x": {"field": "t", "type": "quantitative", "scale": {"domain": [0, 10000], "nice": false}, "axis": {"values": [0,2000,4000,6000,8000,10000], "format": "d", "title": "Time (ms)", "labelFontSize": 5, "titleFontSize": 6, "tickSize": 2, "labelPadding": 1, "titlePadding": 2}},
       "y": {"field": "v", "type": "quantitative", "scale": {"domain": [0, 17], "nice": false}, "axis": {"values": [0,2,4,6,8,10,12,14,16], "title": "Beating magnitude (μm)", "labelFontSize": 5, "titleFontSize": 6, "tickSize": 2, "labelPadding": 1, "titlePadding": 3}}
     },
     "layer": [
       {"mark": {"type": "line", "color": "#a6a6a6", "strokeWidth": 0.8}},
       {"mark": {"type": "square", "color": "#008800", "size": 5, "opacity": 1}}
     ]}
  ], "spacing": 0, "bounds": "flush",
  "resolve": {"scale": {"color": "independent", "shape": "independent", "stroke": "independent", "fill": "independent"}, "legend": {"color": "independent", "shape": "independent", "stroke": "independent", "fill": "independent"}}},
  {"hconcat": [
    {"width": 49, "height": 275, "data": {"values": [{"k": 0}]}, "mark": {"type": "point", "opacity": 0}},
    {"width": 177, "height": 245,
     "encoding": {"x": {"field": "g", "type": "nominal", "scale": {"domain": ["Before treatment","E4031 50nM","E4031 100nM"], "paddingInner": 0, "paddingOuter": 0}, "axis": {"title": null, "labelAngle": 0, "labelFontSize": 7, "tickSize": 3, "labelPadding": 2}}},
     "layer": [
       {"data": {"name": "boxa1"}, "mark": {"type": "rule", "color": "#8c8c8c"}, "encoding": {"y": {"field": "lo", "type": "quantitative", "title": "Beating period (ms)", "scale": {"domain": [800, 1600], "nice": false}, "axis": {"values": [800,1000,1200,1400,1600], "format": "d", "labelFontSize": 7, "titleFontSize": 9.5, "tickSize": 3, "labelPadding": 2, "titlePadding": 6}}, "y2": {"field": "hi"}}},
       {"data": {"name": "boxa1"}, "mark": {"type": "bar", "fill": "white", "stroke": "#8c8c8c", "strokeWidth": 1, "width": {"band": 0.8}}, "encoding": {"y": {"field": "q1", "type": "quantitative", "title": "Beating period (ms)"}, "y2": {"field": "q3"}}},
       {"data": {"name": "boxa1"}, "mark": {"type": "tick", "color": "#666", "size": 47, "thickness": 1}, "encoding": {"y": {"field": "md", "type": "quantitative", "title": "Beating period (ms)"}}},
       {"data": {"name": "boxa1"}, "mark": {"type": "tick", "color": "#8c8c8c", "size": 10, "thickness": 1}, "encoding": {"y": {"field": "lo", "type": "quantitative", "title": "Beating period (ms)"}}},
       {"data": {"name": "boxa1"}, "mark": {"type": "tick", "color": "#8c8c8c", "size": 10, "thickness": 1}, "encoding": {"y": {"field": "hi", "type": "quantitative", "title": "Beating period (ms)"}}},
       {"data": {"name": "boxa1"}, "mark": {"type": "square", "color": "#c0c0c0", "size": 5, "opacity": 1}, "encoding": {"y": {"field": "mn", "type": "quantitative", "title": "Beating period (ms)"}}},
       {"data": {"name": "ptsa1"}, "mark": {"type": "point", "filled": true, "opacity": 1, "size": 30, "strokeWidth": 0},
        "encoding": {"y": {"field": "v", "type": "quantitative", "title": "Beating period (ms)"}, "xOffset": {"field": "j", "type": "quantitative", "scale": {"domain": [-0.5, 0.5]}},
          "color": {"field": "g", "type": "nominal", "scale": {"domain": ["Before treatment","E4031 50nM","E4031 100nM"], "range": ["#000000", "#ff0000", "#008800"]}, "legend": null},
          "shape": {"field": "g", "type": "nominal", "scale": {"domain": ["Before treatment","E4031 50nM","E4031 100nM"], "range": ["square", "circle", "cross"]}, "legend": null}}}
     ]},
    {"width": 44, "height": 1, "data": {"values": [{"k": 0}]}, "mark": {"type": "point", "opacity": 0}},
    {"width": 175, "height": 245,
     "encoding": {"x": {"field": "g", "type": "nominal", "scale": {"domain": ["Negative control","E4031 50 nM","E4031 100 nM"], "paddingInner": 0, "paddingOuter": 0}, "axis": {"title": null, "labelAngle": 0, "labelFontSize": 7, "tickSize": 3, "labelPadding": 2}}},
     "layer": [
       {"data": {"name": "boxa2"}, "mark": {"type": "rule", "color": "#8c8c8c"}, "encoding": {"y": {"field": "lo", "type": "quantitative", "title": "Normalized beating magnitude (%)", "scale": {"domain": [20, 220], "nice": false}, "axis": {"values": [20,40,60,80,100,120,140,160,180,200,220], "format": "d", "labelFontSize": 7, "titleFontSize": 9.5, "tickSize": 3, "labelPadding": 2, "titlePadding": 6}}, "y2": {"field": "hi"}}},
       {"data": {"name": "boxa2"}, "mark": {"type": "bar", "fill": "white", "stroke": "#8c8c8c", "strokeWidth": 1, "width": {"band": 0.8}}, "encoding": {"y": {"field": "q1", "type": "quantitative", "title": "Normalized beating magnitude (%)"}, "y2": {"field": "q3"}}},
       {"data": {"name": "boxa2"}, "mark": {"type": "tick", "color": "#666", "size": 47, "thickness": 1}, "encoding": {"y": {"field": "md", "type": "quantitative", "title": "Normalized beating magnitude (%)"}}},
       {"data": {"name": "boxa2"}, "mark": {"type": "tick", "color": "#8c8c8c", "size": 10, "thickness": 1}, "encoding": {"y": {"field": "lo", "type": "quantitative", "title": "Normalized beating magnitude (%)"}}},
       {"data": {"name": "boxa2"}, "mark": {"type": "tick", "color": "#8c8c8c", "size": 10, "thickness": 1}, "encoding": {"y": {"field": "hi", "type": "quantitative", "title": "Normalized beating magnitude (%)"}}},
       {"data": {"name": "boxa2"}, "mark": {"type": "square", "color": "#c0c0c0", "size": 5, "opacity": 1}, "encoding": {"y": {"field": "mn", "type": "quantitative", "title": "Normalized beating magnitude (%)"}}},
       {"data": {"name": "ptsa2"}, "mark": {"type": "point", "filled": true, "opacity": 1, "size": 30, "strokeWidth": 0},
        "encoding": {"y": {"field": "v", "type": "quantitative", "title": "Normalized beating magnitude (%)"}, "xOffset": {"field": "j", "type": "quantitative", "scale": {"domain": [-0.5, 0.5]}},
          "color": {"field": "g", "type": "nominal", "scale": {"domain": ["Negative control","E4031 50 nM","E4031 100 nM"], "range": ["#000000", "#ff0000", "#008800"]}, "legend": null},
          "shape": {"field": "g", "type": "nominal", "scale": {"domain": ["Negative control","E4031 50 nM","E4031 100 nM"], "range": ["square", "circle", "cross"]}, "legend": null}}}
     ]},
    {"width": 59, "height": 1, "data": {"values": [{"k": 0}]}, "mark": {"type": "point", "opacity": 0}},
    {"vconcat": [
      {"width": 1, "height": 16, "data": {"values": [{"k": 0}]}, "mark": {"type": "point", "opacity": 0}},
      {"width": 121, "height": 195,
       "data": {"name": "linea"},
       "encoding": {
         "x": {"field": "t", "type": "quantitative", "scale": {"domain": [0, 1000], "nice": false}, "axis": {"values": [0,200,400,600,800,1000], "format": "d", "title": "Time (ms)", "labelFontSize": 9.5, "titleFontSize": 10.5, "tickSize": 3, "labelPadding": 2, "titlePadding": 4}},
         "y": {"field": "v", "type": "quantitative", "scale": {"domain": [0, 17], "nice": false}, "axis": {"values": [0,5,10,15], "title": "Beating magnitude (μm)", "labelFontSize": 9.5, "titleFontSize": 10.5, "tickSize": 3, "labelPadding": 2, "titlePadding": 6}}
       },
       "layer": [
         {"mark": {"type": "line", "strokeWidth": 0.8},
          "encoding": {"stroke": {"field": "s", "type": "nominal", "scale": {"domain": ["E4031 100 nM treatment", "E4031 50 nM treatment", "Control"], "range": ["#333333", "#333333", "#333333"]},
            "legend": {"values": ["Control", "E4031 50 nM treatment", "E4031 100 nM treatment"], "title": null, "orient": "none", "legendX": 114, "legendY": 2, "symbolType": "M-2.75,0H-1M1,0H2.75", "symbolSize": 64, "symbolStrokeWidth": 1, "labelExpr": "''", "labelFontSize": 10.5, "labelOffset": 17, "rowPadding": 7.5, "padding": 0}}}},
         {"mark": {"type": "point", "filled": true, "opacity": 1, "size": 10, "strokeWidth": 0},
          "encoding": {
            "color": {"field": "s", "type": "nominal", "scale": {"domain": ["Control", "E4031 50 nM treatment", "E4031 100 nM treatment"], "range": ["#000000", "#ff0000", "#008800"]},
              "legend": {"title": null, "orient": "none", "legendX": 114, "legendY": 2, "labelFontSize": 10.5, "labelColor": "#111", "symbolSize": 64, "labelOffset": 17, "rowPadding": 7.5, "padding": 0}},
            "shape": {"field": "s", "type": "nominal", "scale": {"domain": ["Control", "E4031 50 nM treatment", "E4031 100 nM treatment"], "range": ["square", "circle", "cross"]}, "legend": null}}}
       ]}
    ], "spacing": 0, "bounds": "flush",
    "resolve": {"scale": {"color": "independent", "shape": "independent", "stroke": "independent", "fill": "independent"}, "legend": {"color": "independent", "shape": "independent", "stroke": "independent", "fill": "independent"}}}
  ], "spacing": 0, "bounds": "flush",
  "resolve": {"scale": {"color": "independent", "shape": "independent", "stroke": "independent", "fill": "independent"}, "legend": {"color": "independent", "shape": "independent", "stroke": "independent", "fill": "independent"}}},
  {"hconcat": [
    {"width": 45, "height": 158, "data": {"values": [{"k": 0}]}, "mark": {"type": "point", "opacity": 0}},
    {"width": 177, "height": 131,
     "title": {"text": "b", "anchor": "start", "frame": "group", "fontSize": 18, "fontWeight": "bold", "color": "#000", "baseline": "alphabetic", "offset": -19, "dx": -40},
     "data": {"name": "tsb1"},
     "encoding": {
       "x": {"field": "t", "type": "quantitative", "scale": {"domain": [0, 10000], "nice": false}, "axis": {"values": [0,2000,4000,6000,8000,10000], "format": "d", "title": "Time (ms)", "labelFontSize": 5, "titleFontSize": 6, "tickSize": 2, "labelPadding": 1, "titlePadding": 2}},
       "y": {"field": "v", "type": "quantitative", "scale": {"domain": [0, 6.5], "nice": false}, "axis": {"values": [0,1,2,3,4,5,6], "title": "Beating magnitude (μm)", "labelFontSize": 5, "titleFontSize": 6, "tickSize": 2, "labelPadding": 1, "titlePadding": 3}}
     },
     "layer": [
       {"mark": {"type": "line", "color": "#a6a6a6", "strokeWidth": 0.8}},
       {"mark": {"type": "square", "color": "#000", "size": 5, "opacity": 1}}
     ]},
    {"width": 55, "height": 1, "data": {"values": [{"k": 0}]}, "mark": {"type": "point", "opacity": 0}},
    {"width": 176, "height": 131,
     "data": {"name": "tsb2"},
     "encoding": {
       "x": {"field": "t", "type": "quantitative", "scale": {"domain": [0, 10000], "nice": false}, "axis": {"values": [0,2000,4000,6000,8000,10000], "format": "d", "title": "Time (ms)", "labelFontSize": 5, "titleFontSize": 6, "tickSize": 2, "labelPadding": 1, "titlePadding": 2}},
       "y": {"field": "v", "type": "quantitative", "scale": {"domain": [0, 3.76], "nice": false}, "axis": {"values": [0,0.5,1,1.5,2,2.5,3,3.5], "format": ".1f", "title": "Beating magnitude (μm)", "labelFontSize": 5, "titleFontSize": 6, "tickSize": 2, "labelPadding": 1, "titlePadding": 3}}
     },
     "layer": [
       {"mark": {"type": "line", "color": "#f49af4", "strokeWidth": 0.8}},
       {"mark": {"type": "square", "color": "#ff0000", "size": 5, "opacity": 1}}
     ]},
    {"width": 55, "height": 1, "data": {"values": [{"k": 0}]}, "mark": {"type": "point", "opacity": 0}},
    {"width": 178, "height": 131,
     "data": {"name": "tsb3"},
     "encoding": {
       "x": {"field": "t", "type": "quantitative", "scale": {"domain": [0, 10000], "nice": false}, "axis": {"values": [0,2000,4000,6000,8000,10000], "format": "d", "title": "Time (ms)", "labelFontSize": 5, "titleFontSize": 6, "tickSize": 2, "labelPadding": 1, "titlePadding": 2}},
       "y": {"field": "v", "type": "quantitative", "scale": {"domain": [-0.33, 3.0], "nice": false}, "axis": {"values": [0,0.5,1,1.5,2,2.5,3], "format": ".1f", "title": "Beating magnitude (μm)", "labelFontSize": 5, "titleFontSize": 6, "tickSize": 2, "labelPadding": 1, "titlePadding": 3}}
     },
     "layer": [
       {"mark": {"type": "line", "color": "#f49af4", "strokeWidth": 0.8}},
       {"mark": {"type": "square", "color": "#008800", "size": 5, "opacity": 1}}
     ]}
  ], "spacing": 0, "bounds": "flush",
  "resolve": {"scale": {"color": "independent", "shape": "independent", "stroke": "independent", "fill": "independent"}, "legend": {"color": "independent", "shape": "independent", "stroke": "independent", "fill": "independent"}}},
  {"hconcat": [
    {"width": 36, "height": 1, "data": {"values": [{"k": 0}]}, "mark": {"type": "point", "opacity": 0}},
    {"width": 171, "height": 244,
     "encoding": {"x": {"field": "g", "type": "nominal", "scale": {"domain": ["Before treatment","Nifedipine 50nM","Nifedipine 100nM"], "paddingInner": 0, "paddingOuter": 0}, "axis": {"title": null, "labelAngle": 0, "labelFontSize": 7, "tickSize": 3, "labelPadding": 2}}},
     "layer": [
       {"data": {"name": "boxb1"}, "mark": {"type": "rule"}, "encoding": {"y": {"field": "lo", "type": "quantitative", "title": "Beating peroid (ms)", "scale": {"domain": [700, 1300], "nice": false}, "axis": {"values": [700,800,900,1000,1100,1200,1300], "format": "d", "labelFontSize": 7, "titleFontSize": 9.5, "tickSize": 3, "labelPadding": 2, "titlePadding": 5}}, "y2": {"field": "hi"}, "stroke": {"field": "g", "type": "nominal", "scale": {"domain": ["Before treatment","Nifedipine 50nM","Nifedipine 100nM"], "range": ["#666666", "#f4a6f4", "#f4a6f4"]}, "legend": null}}},
       {"data": {"name": "boxb1"}, "mark": {"type": "bar", "fill": "white", "strokeWidth": 1, "width": {"band": 0.8}}, "encoding": {"y": {"field": "q1", "type": "quantitative", "title": "Beating peroid (ms)"}, "y2": {"field": "q3"}, "stroke": {"field": "g", "type": "nominal", "scale": {"domain": ["Before treatment","Nifedipine 50nM","Nifedipine 100nM"], "range": ["#666666", "#f4a6f4", "#f4a6f4"]}, "legend": null}}},
       {"data": {"name": "boxb1"}, "mark": {"type": "tick", "size": 46, "thickness": 1}, "encoding": {"y": {"field": "md", "type": "quantitative", "title": "Beating peroid (ms)"}, "fill": {"field": "g", "type": "nominal", "scale": {"domain": ["Before treatment","Nifedipine 50nM","Nifedipine 100nM"], "range": ["#666666", "#f4a6f4", "#f4a6f4"]}, "legend": null}}},
       {"data": {"name": "boxb1"}, "mark": {"type": "tick", "size": 10, "thickness": 1}, "encoding": {"y": {"field": "lo", "type": "quantitative", "title": "Beating peroid (ms)"}, "fill": {"field": "g", "type": "nominal", "scale": {"domain": ["Before treatment","Nifedipine 50nM","Nifedipine 100nM"], "range": ["#666666", "#f4a6f4", "#f4a6f4"]}, "legend": null}}},
       {"data": {"name": "boxb1"}, "mark": {"type": "tick", "size": 10, "thickness": 1}, "encoding": {"y": {"field": "hi", "type": "quantitative", "title": "Beating peroid (ms)"}, "fill": {"field": "g", "type": "nominal", "scale": {"domain": ["Before treatment","Nifedipine 50nM","Nifedipine 100nM"], "range": ["#666666", "#f4a6f4", "#f4a6f4"]}, "legend": null}}},
       {"data": {"name": "boxb1"}, "mark": {"type": "square", "color": "#c0c0c0", "size": 5, "opacity": 1}, "encoding": {"y": {"field": "mn", "type": "quantitative", "title": "Beating peroid (ms)"}}},
       {"data": {"name": "ptsb1"}, "mark": {"type": "point", "filled": true, "opacity": 1, "size": 30, "strokeWidth": 0},
        "encoding": {"y": {"field": "v", "type": "quantitative", "title": "Beating peroid (ms)"}, "xOffset": {"field": "j", "type": "quantitative", "scale": {"domain": [-0.5, 0.5]}},
          "color": {"field": "g", "type": "nominal", "scale": {"domain": ["Before treatment","Nifedipine 50nM","Nifedipine 100nM"], "range": ["#000000", "#ff0000", "#008800"]}, "legend": null},
          "shape": {"field": "g", "type": "nominal", "scale": {"domain": ["Before treatment","Nifedipine 50nM","Nifedipine 100nM"], "range": ["square", "circle", "cross"]}, "legend": null}}}
     ]},
    {"width": 51, "height": 1, "data": {"values": [{"k": 0}]}, "mark": {"type": "point", "opacity": 0}},
    {"width": 170, "height": 244,
     "encoding": {"x": {"field": "g", "type": "nominal", "scale": {"domain": ["Negative control","Nifedipine 50nM","Nifedipine 100nM"], "paddingInner": 0, "paddingOuter": 0}, "axis": {"title": null, "labelAngle": 0, "labelFontSize": 7, "tickSize": 3, "labelPadding": 2}}},
     "layer": [
       {"data": {"name": "boxb2"}, "mark": {"type": "rule"}, "encoding": {"y": {"field": "lo", "type": "quantitative", "title": "Normalized beating magnitude (%)", "scale": {"domain": [-20, 160], "nice": false}, "axis": {"values": [-20,0,20,40,60,80,100,120,140,160], "format": "d", "labelFontSize": 7, "titleFontSize": 9.5, "tickSize": 3, "labelPadding": 2, "titlePadding": 5}}, "y2": {"field": "hi"}, "stroke": {"field": "g", "type": "nominal", "scale": {"domain": ["Negative control","Nifedipine 50nM","Nifedipine 100nM"], "range": ["#666666", "#f4a6f4", "#f4a6f4"]}, "legend": null}}},
       {"data": {"name": "boxb2"}, "mark": {"type": "bar", "fill": "white", "strokeWidth": 1, "width": {"band": 0.8}}, "encoding": {"y": {"field": "q1", "type": "quantitative", "title": "Normalized beating magnitude (%)"}, "y2": {"field": "q3"}, "stroke": {"field": "g", "type": "nominal", "scale": {"domain": ["Negative control","Nifedipine 50nM","Nifedipine 100nM"], "range": ["#666666", "#f4a6f4", "#f4a6f4"]}, "legend": null}}},
       {"data": {"name": "boxb2"}, "mark": {"type": "tick", "size": 46, "thickness": 1}, "encoding": {"y": {"field": "md", "type": "quantitative", "title": "Normalized beating magnitude (%)"}, "fill": {"field": "g", "type": "nominal", "scale": {"domain": ["Negative control","Nifedipine 50nM","Nifedipine 100nM"], "range": ["#666666", "#f4a6f4", "#f4a6f4"]}, "legend": null}}},
       {"data": {"name": "boxb2"}, "mark": {"type": "tick", "size": 10, "thickness": 1}, "encoding": {"y": {"field": "lo", "type": "quantitative", "title": "Normalized beating magnitude (%)"}, "fill": {"field": "g", "type": "nominal", "scale": {"domain": ["Negative control","Nifedipine 50nM","Nifedipine 100nM"], "range": ["#666666", "#f4a6f4", "#f4a6f4"]}, "legend": null}}},
       {"data": {"name": "boxb2"}, "mark": {"type": "tick", "size": 10, "thickness": 1}, "encoding": {"y": {"field": "hi", "type": "quantitative", "title": "Normalized beating magnitude (%)"}, "fill": {"field": "g", "type": "nominal", "scale": {"domain": ["Negative control","Nifedipine 50nM","Nifedipine 100nM"], "range": ["#666666", "#f4a6f4", "#f4a6f4"]}, "legend": null}}},
       {"data": {"name": "boxb2"}, "mark": {"type": "square", "color": "#c0c0c0", "size": 5, "opacity": 1}, "encoding": {"y": {"field": "mn", "type": "quantitative", "title": "Normalized beating magnitude (%)"}}},
       {"data": {"name": "ptsb2"}, "mark": {"type": "point", "filled": true, "opacity": 1, "size": 30, "strokeWidth": 0},
        "encoding": {"y": {"field": "v", "type": "quantitative", "title": "Normalized beating magnitude (%)"}, "xOffset": {"field": "j", "type": "quantitative", "scale": {"domain": [-0.5, 0.5]}},
          "color": {"field": "g", "type": "nominal", "scale": {"domain": ["Negative control","Nifedipine 50nM","Nifedipine 100nM"], "range": ["#000000", "#ff0000", "#008800"]}, "legend": null},
          "shape": {"field": "g", "type": "nominal", "scale": {"domain": ["Negative control","Nifedipine 50nM","Nifedipine 100nM"], "range": ["square", "circle", "cross"]}, "legend": null}}}
     ]},
    {"width": 76, "height": 1, "data": {"values": [{"k": 0}]}, "mark": {"type": "point", "opacity": 0}},
    {"vconcat": [
      {"width": 1, "height": 22, "data": {"values": [{"k": 0}]}, "mark": {"type": "point", "opacity": 0}},
      {"width": 106, "height": 196,
       "data": {"name": "lineb"},
       "encoding": {
         "x": {"field": "t", "type": "quantitative", "scale": {"domain": [0, 1000], "nice": false}, "axis": {"values": [0,200,400,600,800,1000], "format": "d", "title": "Time (ms)", "labelFontSize": 9.5, "titleFontSize": 10.5, "tickSize": 3, "labelPadding": 2, "titlePadding": 4}},
         "y": {"field": "v", "type": "quantitative", "scale": {"domain": [-0.5, 6.5], "nice": false}, "axis": {"values": [0,1,2,3,4,5,6], "title": "Beating magnitude (μm)", "labelFontSize": 9.5, "titleFontSize": 10.5, "tickSize": 3, "labelPadding": 2, "titlePadding": 6}}
       },
       "layer": [
         {"mark": {"type": "line", "strokeWidth": 0.8},
          "encoding": {"stroke": {"field": "s", "type": "nominal", "scale": {"domain": ["Nifedipine 100 nM treatment", "Nifedipine 50 nM treatment", "Control"], "range": ["#f49af4", "#f49af4", "#222222"]},
            "legend": {"values": ["Control", "Nifedipine 50 nM treatment", "Nifedipine 100 nM treatment"], "title": null, "orient": "none", "legendX": 114, "legendY": 2, "symbolType": "M-2.75,0H-1M1,0H2.75", "symbolSize": 64, "symbolStrokeWidth": 1, "labelExpr": "''", "labelFontSize": 10.5, "labelOffset": 17, "rowPadding": 7.5, "padding": 0}}}},
         {"mark": {"type": "point", "filled": true, "opacity": 1, "size": 10, "strokeWidth": 0},
          "encoding": {
            "color": {"field": "s", "type": "nominal", "scale": {"domain": ["Control", "Nifedipine 50 nM treatment", "Nifedipine 100 nM treatment"], "range": ["#000000", "#ff0000", "#008800"]},
              "legend": {"title": null, "orient": "none", "legendX": 114, "legendY": 2, "labelFontSize": 10.5, "labelColor": "#111", "symbolSize": 64, "labelOffset": 17, "rowPadding": 7.5, "padding": 0}},
            "shape": {"field": "s", "type": "nominal", "scale": {"domain": ["Control", "Nifedipine 50 nM treatment", "Nifedipine 100 nM treatment"], "range": ["square", "circle", "cross"]}, "legend": null}}}
       ]}
    ], "spacing": 0, "bounds": "flush",
    "resolve": {"scale": {"color": "independent", "shape": "independent", "stroke": "independent", "fill": "independent"}, "legend": {"color": "independent", "shape": "independent", "stroke": "independent", "fill": "independent"}}}
  ], "spacing": 0, "bounds": "flush",
  "resolve": {"scale": {"color": "independent", "shape": "independent", "stroke": "independent", "fill": "independent"}, "legend": {"color": "independent", "shape": "independent", "stroke": "independent", "fill": "independent"}}}
],
"spacing": 0
}
